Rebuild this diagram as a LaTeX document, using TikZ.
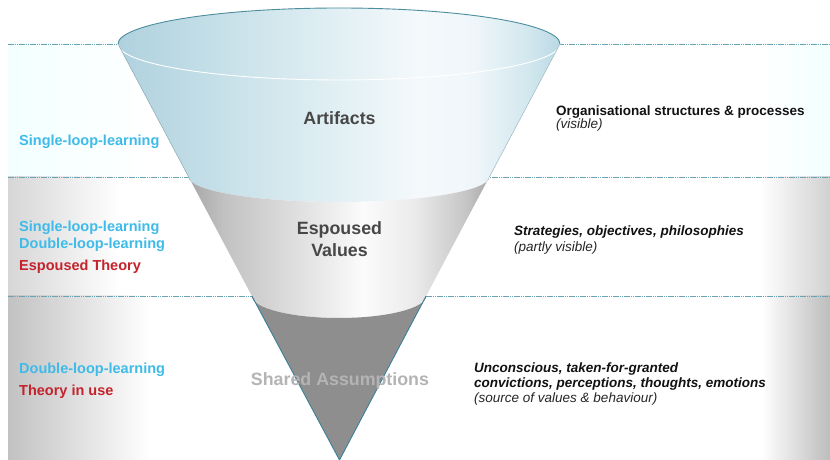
\documentclass[tikz,border=0pt]{standalone}
\usepackage{fontspec}
\setmainfont{Liberation Sans}
\definecolor{cyanL}{HTML}{3FBBE9}
\definecolor{redL}{HTML}{C4222C}
\definecolor{labelgray}{HTML}{474747}
\definecolor{sharedgray}{HTML}{B4B4B4}
\definecolor{dotteal}{HTML}{6AA4B4}
\definecolor{rimteal}{HTML}{4C8D9E}
\definecolor{edgeteal}{HTML}{3A8099}
\definecolor{darkseg}{HTML}{8E8E8E}
\definecolor{sA0}{HTML}{AFD1DE}
\definecolor{sA1}{HTML}{C3DEE7}
\definecolor{sA2}{HTML}{DDEDF2}
\definecolor{sA3}{HTML}{F4F9FB}
\definecolor{sA4}{HTML}{F0F7FA}
\definecolor{sA5}{HTML}{D2E7EE}
\definecolor{sA6}{HTML}{B9D9E4}
\definecolor{sB0}{HTML}{A6A6A6}
\definecolor{sB1}{HTML}{C2C2C2}
\definecolor{sB2}{HTML}{E4E4E4}
\definecolor{sB3}{HTML}{FBFBFB}
\definecolor{sB4}{HTML}{EBEBEB}
\definecolor{sB5}{HTML}{C6C6C6}
\definecolor{sB6}{HTML}{A9A9A9}
\pgfdeclarehorizontalshading{segA}{100bp}{color(0bp)=(sA0); color(25bp)=(sA0); color(35bp)=(sA1); color(47.5bp)=(sA2); color(59bp)=(sA3); color(65bp)=(sA4); color(71.5bp)=(sA5); color(75bp)=(sA6); color(100bp)=(sA6)}
\pgfdeclarehorizontalshading{segB}{100bp}{color(0bp)=(sB0); color(25bp)=(sB0); color(31bp)=(sB1); color(45bp)=(sB2); color(54bp)=(sB3); color(62.5bp)=(sB4); color(71bp)=(sB5); color(75bp)=(sB6); color(100bp)=(sB6)}
\begin{document}
\begin{tikzpicture}[x=1pt,y=1pt,
  bigl/.style={inner sep=0pt, anchor=base, text=labelgray, font=\fontsize{17.8}{22}\selectfont\bfseries},
  lefttxt/.style={inner sep=0pt, anchor=base west, font=\fontsize{14.5}{17}\selectfont\bfseries},
  rtbold/.style={inner sep=0pt, anchor=base west, text=black!93, font=\fontsize{13.5}{15}\selectfont\bfseries},
  rtbi/.style={inner sep=0pt, anchor=base west, text=black!93, font=\fontsize{13.5}{15}\selectfont\bfseries\itshape},
  rtit/.style={inner sep=0pt, anchor=base west, text=black!85, font=\fontsize{13.5}{15}\selectfont\itshape},
  dotline/.style={draw=dotteal, line width=0.8pt, dash pattern=on 1.5pt off 0.7pt}]
\useasboundingbox (0,0) rectangle (830,460);
\fill[white] (0,0) rectangle (830,460);
% bands
\shade[left color=blue!4!cyan!5, right color=white] (8,416) rectangle (150,283);
\shade[left color=white, right color=blue!4!cyan!5] (760,416) rectangle (830,283);
\shade[left color=black!16, right color=white] (8,283) rectangle (120,164);
\shade[left color=white, right color=black!18] (760,283) rectangle (830,164);
\shade[left color=black!24, right color=white] (8,164) rectangle (150,0);
\shade[left color=white, right color=black!26] (762,164) rectangle (830,0);
% dotted band boundaries
\draw[dotline] (8,416) -- (830,416);
\draw[dotline] (8,283) -- (830,283);
\draw[dotline] (8,164) -- (830,164);
% cone segment 1 (Artifacts)
\shade[shading=segA] (118,416) arc[start angle=180, end angle=0, x radius=221, y radius=36]
  -- (489.3,283) arc[start angle=0, end angle=-180, x radius=150.3, y radius=25] -- cycle;
\draw[white, line width=0.9pt] (118,416) arc[start angle=180, end angle=360, x radius=221, y radius=36];
\draw[draw=sA0!80!black, line width=0.5pt] (118,416) -- (188.7,283);
\draw[draw=sA6!85!black, line width=0.5pt] (560,416) -- (489.3,283);
\draw[rimteal, line width=0.9pt] (118,416) arc[start angle=180, end angle=0, x radius=221, y radius=36];
% cone segment 2 (Espoused Values)
\shade[shading=segB] (188.7,283) arc[start angle=180, end angle=360, x radius=150.3, y radius=25]
  -- (426.1,164) arc[start angle=0, end angle=-180, x radius=87.1, y radius=22] -- cycle;
% cone segment 3 (Shared Assumptions)
\fill[darkseg] (251.9,164) arc[start angle=180, end angle=360, x radius=87.1, y radius=22]
  -- (339.5,0) -- cycle;
\draw[edgeteal, line width=0.9pt] (251.9,164) -- (339.5,0) -- (426.1,164);
% cone labels
\node[bigl] (art) at (339.5,335) {Artifacts};
\node[bigl] (esp1) at (339.5,225) {Espoused};
\node[bigl] (esp2) at (339.5,203) {Values};
\node[bigl, text=sharedgray] (sha) at (340,74.5) {Shared Assumptions};
% left labels
\node[lefttxt, text=cyanL] (sl1) at (19,314.5) {Single-loop-learning};
\node[lefttxt, text=cyanL] (sl2) at (19,228.5) {Single-loop-learning};
\node[lefttxt, text=cyanL] (dl2) at (19,211) {Double-loop-learning};
\node[lefttxt, text=redL] (et) at (19,189.5) {Espoused Theory};
\node[lefttxt, text=cyanL] (dl3) at (19,86.7) {Double-loop-learning};
\node[lefttxt, text=redL] (tu) at (19,64.5) {Theory in use};
% right descriptions
\node[rtbold] (r1a) at (556,344.3) {Organisational structures \& processes};
\node[rtit] (r1b) at (556,331.5) {(visible)};
\node[rtbi] (r2a) at (514,224) {Strategies, objectives, philosophies};
\node[rtit] (r2b) at (514,208.3) {(partly visible)};
\node[rtbi] (r3a) at (474,87.7) {Unconscious, taken-for-granted};
\node[rtbi] (r3b) at (474,72.7) {convictions, perceptions, thoughts, emotions};
\node[rtit] (r3c) at (474,57.7) {(source of values \& behaviour)};
\end{tikzpicture}
\end{document}
